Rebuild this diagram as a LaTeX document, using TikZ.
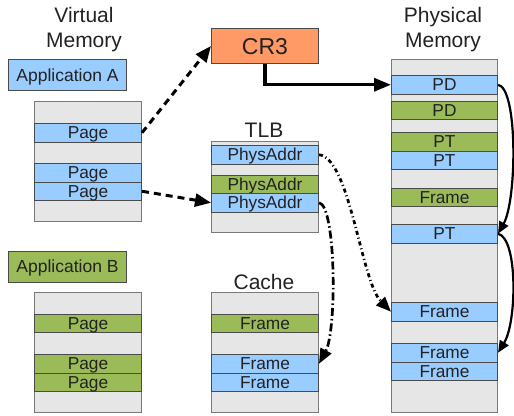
\documentclass[tikz,border=0pt]{standalone}
\usepackage{fontspec}
\setmainfont{Liberation Sans}
\usetikzlibrary{arrows.meta}
\definecolor{cblue}{HTML}{99CCFF}
\definecolor{cgreen}{HTML}{9BBB59}
\definecolor{cgray}{HTML}{E6E6E6}
\definecolor{corange}{HTML}{FF9966}
\definecolor{cedge}{HTML}{4A4A4A}
\definecolor{coledge}{HTML}{7A7A7A}
\definecolor{ctext}{HTML}{222222}
\newcommand\mycellfont{\fontsize{17.3}{20}\selectfont}
\newcommand\mytitlefont{\fontsize{21}{25}\selectfont}
\begin{document}
\begin{tikzpicture}[x=1pt,y=-1pt,
  col/.style={draw=coledge, fill=cgray, line width=1pt, anchor=north west, inner sep=0pt, minimum width=107pt},
  cell/.style={draw=cedge, line width=1pt, anchor=north west, inner sep=0pt, minimum width=107pt, minimum height=18.5pt, font=\mycellfont, text height=12.4pt, text depth=0pt, text=ctext},
  titletext/.style={font=\mytitlefont, align=center, inner sep=0pt, text=ctext},
  appbox/.style={draw=cedge, line width=1pt, anchor=north west, inner sep=0pt, minimum width=118pt, minimum height=31pt, font=\fontsize{17.5}{20}\selectfont, text height=12.5pt, text depth=0pt, text=ctext},
  dasharr/.style={line width=3pt, dash pattern=on 7pt off 5pt, -{Triangle[length=16pt,width=13pt]}},
  solidarr/.style={line width=3.3pt, -{Triangle[length=17pt,width=13pt]}},
  curvarr/.style={line width=2.2pt, -{Triangle[length=12pt,width=10pt]}},
  dotarr/.style={line width=2.7pt, dash pattern=on 4pt off 3pt on 1pt off 3pt, -{Triangle[length=15pt,width=12pt]}},
  dotarrb/.style={line width=2.7pt, dash pattern=on 8pt off 3pt on 1.5pt off 3pt, -{Triangle[length=15pt,width=12pt]}}
]
\useasboundingbox (0,0) rectangle (514,415);

% titles
\node[titletext, anchor=north] (vmt) at (84,7) {Virtual\\Memory};
\node[titletext, anchor=north] (pmt) at (443,7) {Physical\\Memory};
\node[titletext, anchor=base] (tlbt) at (264,137) {TLB};
\node[titletext, anchor=base] (cat) at (264,289) {Cache};

% application labels
\node[appbox, fill=cblue] (appa) at (8,59) {Application A};
\node[appbox, fill=cgreen] (appb) at (8,250.5) {Application B};

% CR3
\node[draw=cedge, line width=1pt, fill=corange, anchor=north west, inner sep=0pt, minimum width=107pt, minimum height=35pt, font=\fontsize{23}{26}\selectfont, text height=16.5pt, text depth=0pt, text=ctext] (cr3) at (211,28) {CR3};

% Virtual memory A
\node[col, minimum height=120pt] (vma) at (34,101) {};
\node[cell, fill=cblue] (pa1) at (34,123) {Page};
\node[cell, fill=cblue] (pa2) at (34,163) {Page};
\node[cell, fill=cblue] (pa3) at (34,181.5) {Page};

% Virtual memory B
\node[col, minimum height=120pt] (vmb) at (34,292) {};
\node[cell, fill=cgreen] (pb1) at (34,313.5) {Page};
\node[cell, fill=cgreen] (pb2) at (34,354) {Page};
\node[cell, fill=cgreen] (pb3) at (34,372.5) {Page};

% TLB
\node[col, minimum height=91pt] (tlb) at (211,141) {};
\node[cell, fill=cblue] (t1) at (211,145) {PhysAddr};
\node[cell, fill=cgreen] (t2) at (211,174.5) {PhysAddr};
\node[cell, fill=cblue] (t3) at (211,193) {PhysAddr};

% Cache
\node[col, minimum height=120pt] (cache) at (211,292) {};
\node[cell, fill=cgreen] (c1) at (211,313.5) {Frame};
\node[cell, fill=cblue] (c2) at (211,354) {Frame};
\node[cell, fill=cblue] (c3) at (211,372.5) {Frame};

% Physical memory
\node[col, minimum width=106pt, minimum height=353pt] (pm) at (391,59) {};
\node[cell, minimum width=106pt, fill=cblue] (pd1) at (391,75) {PD};
\node[cell, minimum width=106pt, fill=cgreen] (pd2) at (391,100.5) {PD};
\node[cell, minimum width=106pt, fill=cgreen] (pt1) at (391,132) {PT};
\node[cell, minimum width=106pt, fill=cblue] (pt3) at (391,150.5) {PT};
\node[cell, minimum width=106pt, fill=cgreen] (fg) at (391,187.5) {Frame};
\node[cell, minimum width=106pt, fill=cblue] (pt2) at (391,224) {PT};
\node[cell, minimum width=106pt, fill=cblue] (fr1) at (391,302) {Frame};
\node[cell, minimum width=106pt, fill=cblue] (fr2) at (391,343) {Frame};
\node[cell, minimum width=106pt, fill=cblue] (fr3) at (391,361.5) {Frame};

% connectors
\draw[dasharr] (pa1.east) -- (cr3.west);
\draw[dasharr] (pa3.east) -- (t3.west);
\draw[solidarr] (cr3.south) |- (pd1.west);
\draw[curvarr] (pd1.east) .. controls (518,88) and (517,200) .. (pt2.east);
\draw[curvarr] (pt2.east) .. controls (518,238) and (517,322) .. (fr2.east);
\draw[dotarr] (t1.east) .. controls (350,158) and (361,281) .. (fr1.west);
\draw[dotarrb] (t3.east) .. controls (336,205) and (337,330) .. (c2.east);
\end{tikzpicture}
\end{document}
